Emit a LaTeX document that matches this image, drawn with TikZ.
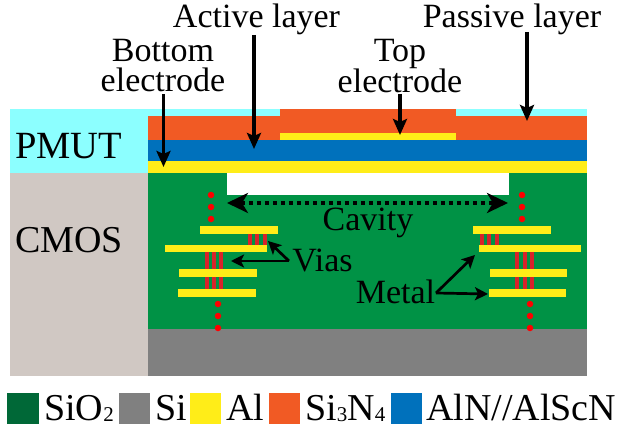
\documentclass[tikz,border=0pt]{standalone}
\usepackage{fontspec}
\setmainfont{Liberation Serif}
\usetikzlibrary{arrows.meta}
\definecolor{cyanbg}{HTML}{8CFFFF}
\definecolor{taupe}{HTML}{D0C8C3}
\definecolor{oxgreen}{HTML}{009245}
\definecolor{legendgreen}{HTML}{006837}
\definecolor{siGray}{HTML}{808080}
\definecolor{alyellow}{HTML}{FFED18}
\definecolor{nitride}{HTML}{F15A24}
\definecolor{alnblue}{HTML}{0071BC}
\definecolor{viared}{HTML}{D8232A}
\tikzset{
  x=1pt,y=-1pt,
  lab/.style={font=\fontsize{34}{30}\selectfont,inner sep=0,align=center},
  baselab/.style={font=\fontsize{34}{30}\selectfont,inner sep=0,anchor=base},
  leg/.style={font=\fontsize{38}{38}\selectfont,inner sep=0,anchor=base west},
  point/.style={-{Stealth[length=16pt,width=14pt,inset=3pt]},line width=3.3pt,black},
  thinpoint/.style={-{Stealth[length=13pt,width=13pt,inset=3pt]},line width=2.7pt,black},
  dotline/.style={{Stealth[length=21pt,width=20pt,inset=6pt]}-{Stealth[length=21pt,width=20pt,inset=6pt]},line width=3.4pt,dash pattern=on 4pt off 4pt},
  reddot/.style={circle,fill=red,inner sep=0,minimum size=6.5pt},
  metal/.style={fill=alyellow},
  via/.style={fill=viared},
}
\newcommand{\bx}[5]{\fill[#1] (#2,#3) rectangle (#4,#5);}
\newcommand{\sbs}[1]{\raisebox{-1pt}{\fontsize{21}{21}\selectfont #1}}
\begin{document}
\begin{tikzpicture}
\useasboundingbox (0,0) rectangle (619,428);
\bx{cyanbg}{10}{109}{587}{173}
\bx{taupe}{10}{173}{148}{376}
\bx{nitride}{148}{116}{587}{140}
\bx{nitride}{280}{109}{456}{116}
\bx{alyellow}{280}{133}{456}{140}
\bx{alnblue}{148}{140}{587}{161}
\bx{alyellow}{148}{161}{587}{173}
\bx{oxgreen}{148}{173}{587}{329}
\bx{siGray}{148}{329}{587}{376}
\bx{white}{227}{173}{509}{195}
% metal left
\bx{metal}{200}{226}{278}{234}
\bx{metal}{165}{245}{267}{252}
\bx{metal}{179}{269}{257}{277}
\bx{metal}{178}{289}{256}{297}
\foreach \c in {249.5,257,264.5}{\fill[via] (\c-2,234) rectangle (\c+2,245);}
\foreach \c in {207,214,221}{\fill[via] (\c-2,252) rectangle (\c+2,269);\fill[via] (\c-2,277) rectangle (\c+2,289);}
% metal right
\bx{metal}{473}{226}{551}{234}
\bx{metal}{479}{245}{581}{252}
\bx{metal}{490}{269}{567}{277}
\bx{metal}{489}{289}{566}{297}
\foreach \c in {482,489,497}{\fill[via] (\c-2,234) rectangle (\c+2,245);}
\foreach \c in {517,525,532}{\fill[via] (\c-2,252) rectangle (\c+2,269);\fill[via] (\c-2,277) rectangle (\c+2,289);}
% dots
\foreach \y [count=\i] in {195,207,219}{\node[reddot] (dl\i) at (211,\y) {};\node[reddot] (dr\i) at (522,\y) {};}
\foreach \y [count=\i] in {304,316,328}{\node[reddot] (el\i) at (218,\y) {};\node[reddot] (er\i) at (530,\y) {};}
% labels
\node[baselab] (active) at (256.5,28) {Active layer};
\node[baselab] (passive) at (512,28) {Passive layer};
\node[lab] (bottom) at (163,66) {Bottom\\electrode};
\node[lab] (top) at (400,66) {Top\\electrode};
\node[baselab,font=\fontsize{38.5}{38.5}\selectfont] (pmut) at (68.5,158) {PMUT};
\node[baselab,font=\fontsize{38}{38}\selectfont] (cmos) at (69,252) {CMOS};
\node[baselab] (cavity) at (368,230) {Cavity};
\node[baselab] (vias) at (322.5,271) {Vias};
\node[baselab] (metaltxt) at (395.5,303) {Metal};
% arrows
\coordinate (a1) at (163.5,167); \coordinate (a1s) at (163.5,94);
\coordinate (a2) at (254,149); \coordinate (a2s) at (254,35);
\coordinate (a3) at (400,135); \coordinate (a3s) at (400,94);
\coordinate (a4) at (527,121); \coordinate (a4s) at (527,32);
\draw[point] (a1s) -- (a1);
\draw[point] (a2s) -- (a2);
\draw[point] (a3s) -- (a3);
\draw[point] (a4s) -- (a4);
\coordinate (cl) at (227,203); \coordinate (cr) at (508,203);
\draw[dotline] (cl) -- (cr);
\coordinate (v0) at (289,261); \coordinate (v1) at (231,261); \coordinate (v2) at (268,241);
\draw[thinpoint] (v0) -- (v1);
\draw[thinpoint] (v0) -- (v2);
\coordinate (m0) at (436,293); \coordinate (m1) at (475,255); \coordinate (m2) at (488,294);
\draw[thinpoint] (m0) -- (m1);
\draw[thinpoint] (m0) -- (m2);
% legend
\fill[legendgreen] (7,393) rectangle (39,424);
\node[leg] (l1) at (44,420) {SiO\sbs{2}};
\fill[siGray] (119,393) rectangle (150,424);
\node[leg] (l2) at (155,420) {Si};
\fill[alyellow] (190,393) rectangle (221,424);
\node[leg] (l3) at (226,420) {Al};
\fill[nitride] (269,393) rectangle (300,424);
\node[leg] (l4) at (305,420) {Si\sbs{3}N\sbs{4}};
\fill[alnblue] (391,393) rectangle (422,424);
\node[leg] (l5) at (426,420) {AlN//AlScN};
\end{tikzpicture}
\end{document}
